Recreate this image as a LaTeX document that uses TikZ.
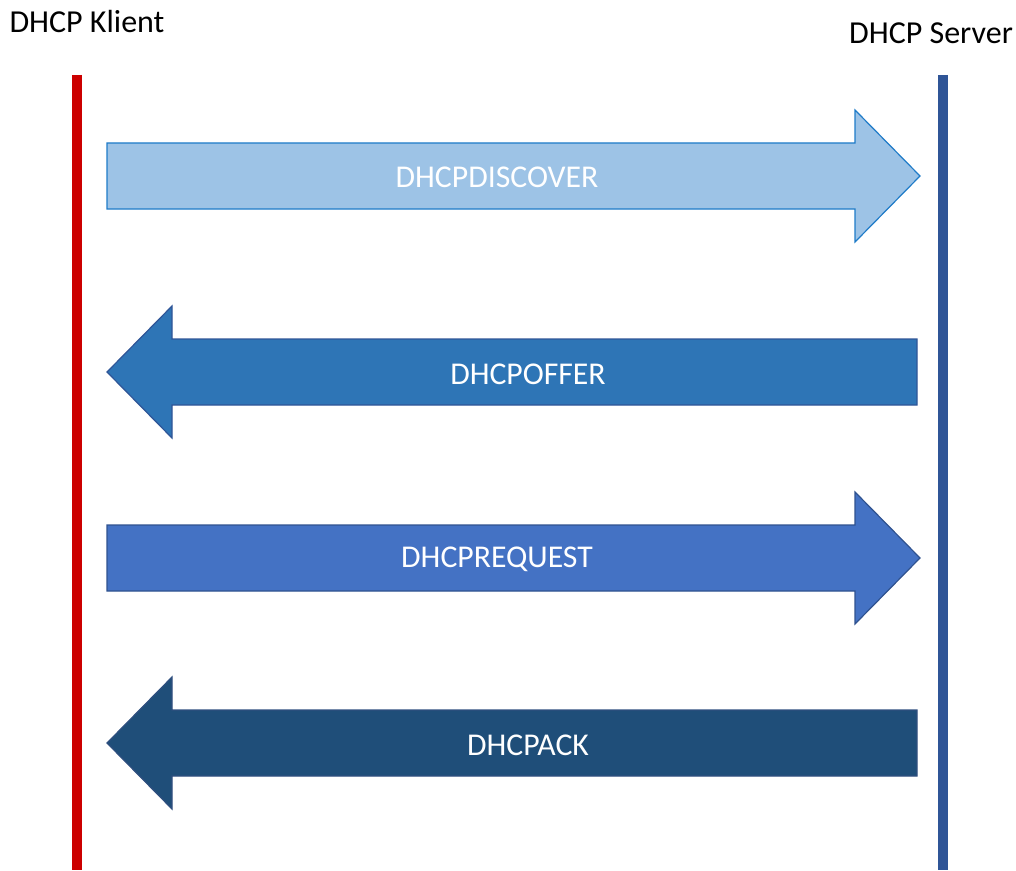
\documentclass[tikz,border=0pt]{standalone}
\usepackage{fontspec}
\setmainfont{Carlito}
\definecolor{klientred}{HTML}{CC0000}
\definecolor{serverblue}{HTML}{2F5597}
\definecolor{discfill}{HTML}{9DC3E6}
\definecolor{discline}{HTML}{1F7BC8}
\definecolor{offerfill}{HTML}{2E75B6}
\definecolor{offerline}{HTML}{2F5597}
\definecolor{reqfill}{HTML}{4472C4}
\definecolor{reqline}{HTML}{2F528F}
\definecolor{ackfill}{HTML}{1F4E79}
\definecolor{ackline}{HTML}{2F4F7F}
\tikzset{
  lifeline/.style={line width=7.5pt},
  msgarrow/.style={line width=0.9pt,line join=miter},
  msglabel/.style={text=white,font=\fontsize{23.8}{28}\selectfont},
  endlabel/.style={font=\fontsize{24}{28}\selectfont}
}
\begin{document}
\begin{tikzpicture}[x=0.75pt,y=-0.75pt]
		\useasboundingbox (0,0) rectangle (1016,870);
		% Akteure
		\node[endlabel] (klient) at (87,22) {DHCP Klient};
		\node[endlabel] (server) at (931,33) {DHCP Server};
		\coordinate (klienttop) at (77,75);
		\coordinate (klientbot) at (77,870);
		\coordinate (servertop) at (943,75);
		\coordinate (serverbot) at (943,870);
		\draw[lifeline,klientred] (klienttop)--(klientbot);
		\draw[lifeline,serverblue] (servertop)--(serverbot);
		% Nachrichten nach rechts
		\foreach \y/\f/\l in {176/discfill/discline,558/reqfill/reqline}
		\draw[msgarrow,fill=\f,draw=\l] (107,\y-33)--(855,\y-33)--(855,\y-66)--(920,\y)
			--(855,\y+66)--(855,\y+33)--(107,\y+33)--cycle;
		% Nachrichten nach links
		\foreach \y/\f/\l in {372/offerfill/offerline,743/ackfill/ackline}
		\draw[msgarrow,fill=\f,draw=\l] (917,\y-33)--(172,\y-33)--(172,\y-66)--(107,\y)
			--(172,\y+66)--(172,\y+33)--(917,\y+33)--cycle;
		\node[msglabel] (discover) at (497,177) {DHCPDISCOVER};
		\node[msglabel] (offer) at (528,374) {DHCPOFFER};
		\node[msglabel] (request) at (497,559) {DHCPREQUEST};
		\node[msglabel] (ack) at (528,745) {DHCPACK};
		\end{tikzpicture}
\end{document}
